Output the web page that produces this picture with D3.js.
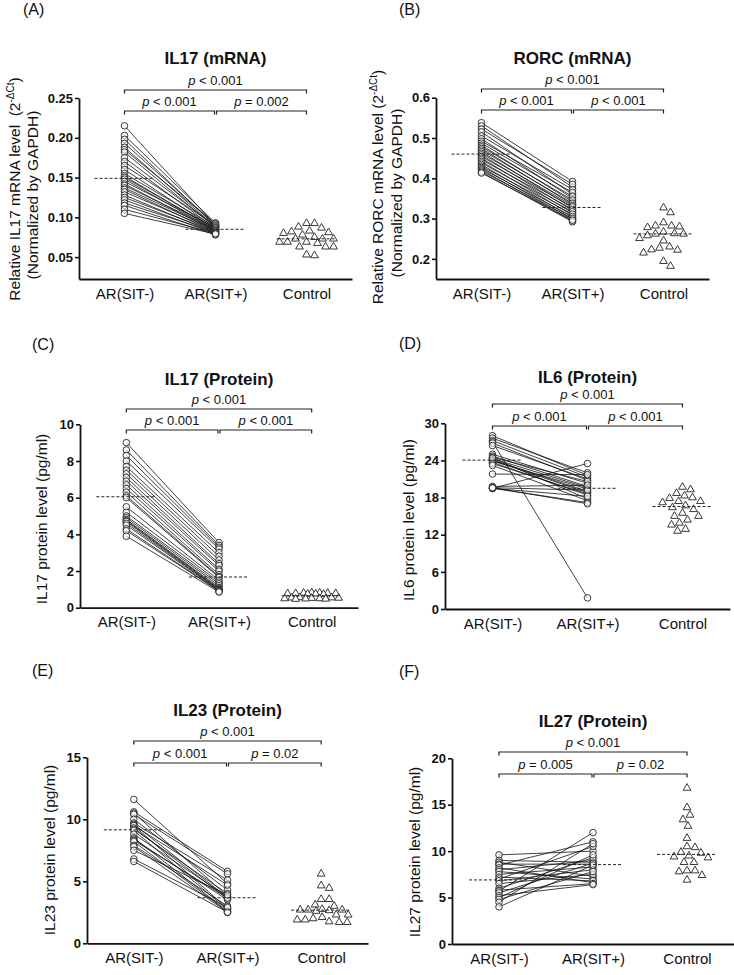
<!DOCTYPE html>
<html><head><meta charset="utf-8">
<script src="https://cdn.jsdelivr.net/npm/d3@7"></script>
<style>body{margin:0;background:#fff} svg{display:block}</style>
</head><body>
<svg id="chart" width="734" height="975"></svg>
<script>
// ---------------- DATA ----------------
const categories = ["AR(SIT-)", "AR(SIT+)", "Control"];
const panelLetters = ["(A)", "(B)", "(C)", "(D)", "(E)", "(F)"];
const titles = ["IL17 (mRNA)", "RORC (mRNA)", "IL17 (Protein)", "IL6 (Protein)", "IL23 (Protein)", "IL27 (Protein)"];

// p-values: [SIT- vs Control (top), SIT- vs SIT+, SIT+ vs Control]
const aP = ["< 0.001", "< 0.001", "= 0.002"];
const bP = ["< 0.001", "< 0.001", "< 0.001"];
const cP = ["< 0.001", "< 0.001", "< 0.001"];
const dP = ["< 0.001", "< 0.001", "< 0.001"];
const eP = ["< 0.001", "< 0.001", "= 0.02"];
const fP = ["< 0.001", "= 0.005", "= 0.02"];

const aTicks = [0.05, 0.10, 0.15, 0.20, 0.25];
const bTicks = [0.2, 0.3, 0.4, 0.5, 0.6];
const cTicks = [0, 2, 4, 6, 8, 10];
const dTicks = [0, 6, 12, 18, 24, 30];
const eTicks = [0, 5, 10, 15];
const fTicks = [0, 5, 10, 15, 20];

// (A) IL17 mRNA — paired patients (same index = same patient)
const aSitNeg = [0.215,0.203,0.198,0.193,0.188,0.185,0.182,0.175,0.170,0.165,0.160,0.155,0.152,0.150,0.148,0.145,0.142,0.140,0.137,0.135,0.132,0.128,0.125,0.122,0.118,0.115,0.110,0.105];
const aSitPos = [0.090,0.093,0.089,0.091,0.088,0.092,0.087,0.089,0.086,0.090,0.085,0.088,0.084,0.086,0.083,0.087,0.082,0.085,0.084,0.081,0.083,0.080,0.082,0.079,0.081,0.078,0.080,0.079];
const aControl = [0.0925,0.088,0.0925,0.082,0.080,0.0867,0.081,0.083,0.073,0.073,0.075,0.078,0.069,0.073,0.0675,0.063,0.069,0.069,0.063,0.063,0.052,0.053];

// (B) RORC mRNA
const bSitNeg = [0.538,0.530,0.522,0.515,0.505,0.498,0.492,0.487,0.482,0.478,0.474,0.470,0.466,0.462,0.458,0.454,0.450,0.446,0.442,0.438,0.434,0.430,0.427,0.424,0.421,0.418,0.415,0.413];
const bSitPos = [0.392,0.378,0.385,0.360,0.372,0.350,0.365,0.355,0.342,0.346,0.335,0.338,0.326,0.332,0.320,0.329,0.314,0.323,0.308,0.317,0.302,0.311,0.298,0.305,0.294,0.300,0.292,0.296];
const bControl = [0.327,0.315,0.282,0.278,0.290,0.280,0.282,0.263,0.258,0.267,0.262,0.262,0.245,0.251,0.227,0.222,0.215,0.223,0.230,0.182,0.194];

// (C) IL17 protein
const cSitNeg = [9.0,8.6,8.3,8.0,7.7,7.5,7.3,7.1,6.9,6.7,6.5,6.3,6.1,6.0,5.5,5.2,5.0,4.9,4.8,4.75,4.7,4.6,4.5,4.3,4.2,3.9];
const cSitPos = [3.55,3.4,3.3,3.2,3.0,2.8,2.6,2.4,2.3,2.1,2.0,1.8,1.7,1.65,1.5,1.4,1.3,1.2,1.1,1.05,1.0,0.98,0.95,0.92,0.9,0.85];
const cControl = [0.82,0.81,0.80,0.79,0.78,0.78,0.77,0.76,0.75,0.74,0.56,0.55,0.54,0.53,0.52,0.50,0.50,0.49,0.48,0.47];

// (D) IL6 protein
const dSitNeg = [28.0,27.6,27.2,27.0,26.8,26.4,25.0,24.7,24.5,24.3,24.1,24.0,23.9,23.7,23.5,23.2,24.4,21.8,19.8,19.6,19.5,19.5,19.5,19.6];
const dSitPos = [21.6,22.0,21.3,1.8,20.8,21.0,20.3,19.8,20.6,19.6,19.0,18.8,19.4,18.4,18.6,17.5,17.8,21.7,20.0,19.2,23.5,18.2,17.2,17.0];
const dControl = [19.7,19.3,18.7,18.3,18.0,17.9,17.4,17.4,17.2,16.7,16.4,16.1,15.5,15.0,15.0,14.4,13.9,13.6,12.9,12.6];

// (E) IL23 protein
const eSitNeg = [11.6,10.6,10.5,10.4,10.0,9.7,9.6,9.5,9.5,9.3,9.2,9.1,8.8,8.5,8.4,8.3,8.2,7.9,7.8,7.5,6.8,6.6];
const eSitPos = [4.8,5.8,3.8,5.6,4.3,5.1,3.7,4.7,2.8,3.6,4.0,2.7,3.75,2.6,3.5,3.65,2.55,3.0,2.5,3.9,2.9,2.5];
const eControl = [5.6,4.65,4.45,3.55,3.55,3.1,3.0,2.75,2.7,2.7,2.7,2.65,2.6,2.3,2.3,2.1,2.0,1.9,1.9,1.75,1.7,1.7];

// (F) IL27 protein
const fSitNeg = [9.6,9.0,8.8,8.6,8.5,8.2,8.0,7.8,7.5,7.2,7.0,6.8,6.5,6.0,5.8,5.7,5.5,5.2,5.0,4.8,4.5,4.0];
const fSitPos = [10.0,8.8,7.3,8.6,11.0,6.6,9.0,7.0,8.3,6.8,10.5,8.0,7.5,9.3,6.5,12.0,8.7,6.4,9.6,7.8,10.8,8.5];
const fControl = [16.8,14.7,13.9,13.4,12.7,11.4,10.5,10.4,9.9,9.8,9.5,9.4,9.3,8.8,8.8,7.9,7.9,7.8,7.4,6.9];

// ---------------- LAYOUT ----------------
const FONT = "'Liberation Sans', Arial, Helvetica, sans-serif";
const layouts = [
  {x0:79,  x1:352, yDom:[0.0225,0.25], yRng:[279,98],     fmt:".2f", title:64,  top:90,  low:111, letter:[23,15],  ylab:[[20,189],[38,195]]},
  {x0:436, x1:709, yDom:[0.15,0.6],    yRng:[279,97.7],   fmt:".1f", title:64,  top:89,  low:110, letter:[399,15], ylab:[[383,187],[402,193]]},
  {x0:80,  x1:358, yDom:[0,10],        yRng:[607.7,424.3],fmt:"d",   title:385, top:409, low:430, letter:[32,350], ylab:[[47,519]]},
  {x0:445, x1:730, yDom:[0,30],        yRng:[609,423.3],  fmt:"d",   title:383, top:404, low:426, letter:[399,349],ylab:[[414,520]]},
  {x0:87,  x1:368, yDom:[0,15],        yRng:[943.3,757.3],fmt:"d",   title:716, top:741, low:763, letter:[32,676], ylab:[[55,850]]},
  {x0:452, x1:734, yDom:[0,20],        yRng:[944,758.3],  fmt:"d",   title:727, top:752, low:774, letter:[399,677],ylab:[[420,852]]}
];

const yLabels = [
  [["Relative IL17 mRNA level\u00a0 (2", "-\u0394Ct", ")"], ["(Normalized by GAPDH)"]],
  [["Relative RORC mRNA level (2", "-\u0394Ct", ")"], ["(Normalized by GAPDH)"]],
  [["IL17 protein level (pg/ml)"]],
  [["IL6 protein level (pg/ml)"]],
  [["IL23 protein level (pg/ml)"]],
  [["IL27 protein level (pg/ml)"]]
];

const panels = [
  {neg:aSitNeg, pos:aSitPos, ctrl:aControl, ticks:aTicks, p:aP},
  {neg:bSitNeg, pos:bSitPos, ctrl:bControl, ticks:bTicks, p:bP},
  {neg:cSitNeg, pos:cSitPos, ctrl:cControl, ticks:cTicks, p:cP},
  {neg:dSitNeg, pos:dSitPos, ctrl:dControl, ticks:dTicks, p:dP},
  {neg:eSitNeg, pos:eSitPos, ctrl:eControl, ticks:eTicks, p:eP},
  {neg:fSitNeg, pos:fSitPos, ctrl:fControl, ticks:fTicks, p:fP}
];

const svg = d3.select("#chart").attr("font-family", FONT);

// bounded beeswarm: nearest-to-centre free slot within maxHalf; else least-crowded slot
function swarm(values, y, d, maxHalf) {
  const pts = values.map(v => ({v, y: y(v)})).sort((a, b) => a.y - b.y);
  const placed = [];
  const cands = [0];
  for (let k = 1; k <= maxHalf; k++) { cands.push(k, -k); }
  pts.forEach(p => {
    let best = null, bestScore = -Infinity;
    for (const off of cands) {
      let minD = Infinity;
      placed.forEach(q => { minD = Math.min(minD, Math.hypot(q.dx - off, q.y - p.y)); });
      if (minD >= d) { best = off; break; }
      if (minD > bestScore + 0.01) { bestScore = minD; best = off; }
    }
    p.dx = best;
    placed.push(p);
  });
  return pts;
}

panels.forEach((P, i) => {
  const L = layouts[i];
  const g = svg.append("g");
  const x = d3.scalePoint().domain(categories).range([L.x0, L.x1]).padding(0.5);
  const y = d3.scaleLinear().domain(L.yDom).range(L.yRng);

  // panel letter
  g.append("text").attr("x", L.letter[0]).attr("y", L.letter[1])
    .attr("font-size", 16).attr("fill", "#111").text(panelLetters[i]);

  // title
  g.append("text").attr("x", x(categories[1])).attr("y", L.title)
    .attr("text-anchor", "middle").attr("font-size", 17).attr("font-weight", "bold")
    .attr("fill", "#111").text(titles[i]);

  // y axis
  const ya = g.append("g").attr("transform", `translate(${L.x0},0)`)
    .call(d3.axisLeft(y).tickValues(P.ticks).tickSize(4).tickSizeOuter(0).tickPadding(2)
      .tickFormat(d3.format(L.fmt)));
  ya.select(".domain").attr("stroke", "#111").attr("stroke-width", 1.8);
  ya.selectAll(".tick line").attr("stroke", "#111").attr("stroke-width", 1.6);
  ya.selectAll(".tick text").attr("font-size", 13).attr("font-weight", "bold")
    .attr("font-family", FONT).attr("fill", "#111");

  // x axis
  const xa = g.append("g").attr("transform", `translate(0,${L.yRng[0]})`)
    .call(d3.axisBottom(x).tickSize(0).tickSizeOuter(0).tickPadding(9));
  xa.select(".domain").attr("stroke", "#111").attr("stroke-width", 1.8);
  xa.selectAll(".tick text").attr("font-size", 15).attr("font-family", FONT).attr("fill", "#111");

  // y label
  yLabels[i].forEach((line, j) => {
    const [bx, cy] = L.ylab[j];
    const t = g.append("text").attr("transform", `translate(${bx},${cy}) rotate(-90)`)
      .attr("text-anchor", "middle").attr("font-size", 15.5).attr("fill", "#111");
    t.append("tspan").text(line[0]);
    if (line.length > 1) {
      t.append("tspan").attr("dy", -6).attr("font-size", 10).text(line[1]);
      t.append("tspan").attr("dy", 6).text(line[2]);
    }
  });

  // significance brackets
  const cx0 = x(categories[0]), cx1 = x(categories[1]), cx2 = x(categories[2]);
  const bracket = (xa_, xb_, yb, label) => {
    g.append("path").attr("d", `M${xa_},${yb + 3.5}V${yb}H${xb_}V${yb + 3.5}`)
      .attr("fill", "none").attr("stroke", "#222").attr("stroke-width", 1.2);
    const t = g.append("text").attr("x", (xa_ + xb_) / 2).attr("y", yb - 5.5)
      .attr("text-anchor", "middle").attr("font-size", 13).attr("fill", "#111");
    t.append("tspan").attr("font-style", "italic").text("p");
    t.append("tspan").text(" " + label);
  };
  bracket(cx0, cx2, L.top, P.p[0]);
  bracket(cx0, cx1 - 1, L.low, P.p[1]);
  bracket(cx1 + 1, cx2, L.low, P.p[2]);

  // paired lines
  g.append("g").selectAll("line").data(P.neg.map((v, k) => [v, P.pos[k]])).join("line")
    .attr("x1", cx0).attr("x2", cx1)
    .attr("y1", d => y(d[0])).attr("y2", d => y(d[1]))
    .attr("stroke", "#111").attr("stroke-width", 0.8);

  // circles
  const circ = g.append("g");
  [[P.neg, cx0], [P.pos, cx1]].forEach(([vals, cx]) => {
    circ.selectAll(null).data(vals).join("circle")
      .attr("cx", cx).attr("cy", d => y(d)).attr("r", 3.3)
      .attr("fill", "#fff").attr("fill-opacity", 0.6).attr("stroke", "#222").attr("stroke-width", 0.9);
  });

  // control triangles (beeswarm)
  const tri = d3.symbol().type(d3.symbolTriangle).size(26);
  g.append("g").selectAll("path").data(swarm(P.ctrl, y, 8, 27)).join("path")
    .attr("d", tri).attr("transform", d => `translate(${cx2 + d.dx},${d.y})`)
    .attr("fill", "#fff").attr("stroke", "#222").attr("stroke-width", 0.9);

  // median dashed lines
  [[P.neg, cx0], [P.pos, cx1], [P.ctrl, cx2]].forEach(([vals, cx]) => {
    const m = y(d3.median(vals));
    g.append("line").attr("x1", cx - 30).attr("x2", cx + 30).attr("y1", m).attr("y2", m)
      .attr("stroke", "#222").attr("stroke-width", 1).attr("stroke-dasharray", "3,2");
  });
});
</script>
</body></html>
